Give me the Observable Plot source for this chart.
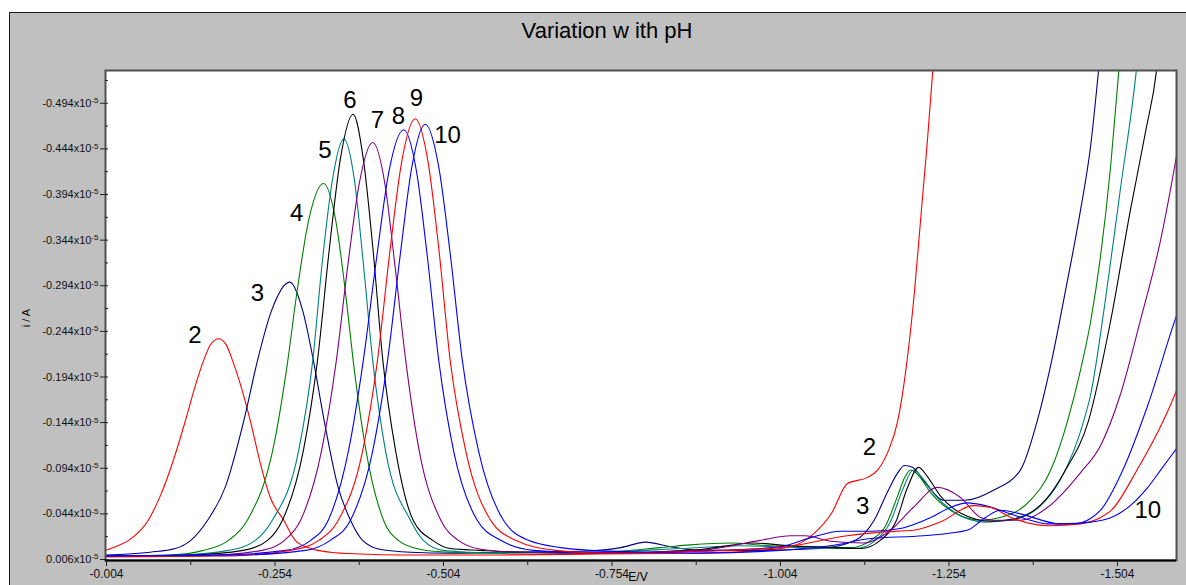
<!DOCTYPE html>
<html>
<head>
<meta charset="utf-8">
<script src="https://cdn.jsdelivr.net/npm/d3@7"></script>
<script src="https://cdn.jsdelivr.net/npm/@observablehq/plot@0.6"></script>
<style>
  html, body { margin: 0; padding: 0; width: 1186px; height: 585px; overflow: hidden; background: white; }
  #panel { position: absolute; left: 9px; top: 12px; width: 1200px; height: 600px; background: #c0c0c0; border-top: 1px solid #1a1a1a; border-left: 1px solid #1a1a1a; }
  #chart { position: absolute; left: 0; top: 0; }
  .txt { position: absolute; font-family: "Liberation Sans", Arial, sans-serif; color: #000; white-space: nowrap; }
  #title { left: 0; width: 1214px; top: 20px; text-align: center; font-size: 22px; line-height: 22px; }
  #ylab { left: 26px; top: 318px; font-size: 11px; line-height: 11px; transform: translate(-50%, -50%) rotate(-90deg); }
  #xlab { left: 638px; top: 571px; font-size: 12px; line-height: 12px; transform: translateX(-50%); }
</style>
</head>
<body>
<div id="panel"></div>
<div id="chart"></div>
<div class="txt" id="title">Variation w ith pH</div>
<div class="txt" id="ylab">i / A</div>
<div class="txt" id="xlab">E/V</div>
<script>
// E / V and i (in units of 1e-5 A)
const curve2 = [[-0.003,-0.004],[-0.017,-0.008],[-0.037,-0.015],[-0.066,-0.037],[-0.084,-0.064],[-0.102,-0.100],[-0.121,-0.146],[-0.136,-0.185],[-0.148,-0.212],[-0.158,-0.229],[-0.170,-0.236],[-0.181,-0.230],[-0.191,-0.212],[-0.203,-0.185],[-0.218,-0.144],[-0.232,-0.100],[-0.247,-0.062],[-0.267,-0.037],[-0.284,-0.015],[-0.307,-0.006],[-0.336,-0.002],[-0.381,0.000],[-0.440,0.001],[-0.589,0.001],[-0.737,0.000],[-0.885,-0.001],[-0.974,-0.004],[-1.019,-0.008],[-1.053,-0.022],[-1.080,-0.045],[-1.103,-0.077],[-1.133,-0.084],[-1.148,-0.092],[-1.164,-0.113],[-1.178,-0.146],[-1.191,-0.207],[-1.203,-0.289],[-1.213,-0.376],[-1.222,-0.453],[-1.230,-0.530],[-1.235,-0.585]];

const curve3 = [[-0.003,0.001],[-0.069,-0.002],[-0.106,-0.006],[-0.129,-0.015],[-0.154,-0.037],[-0.181,-0.075],[-0.209,-0.150],[-0.228,-0.212],[-0.249,-0.267],[-0.276,-0.298],[-0.295,-0.267],[-0.311,-0.212],[-0.326,-0.150],[-0.347,-0.075],[-0.366,-0.037],[-0.384,-0.015],[-0.411,-0.005],[-0.455,-0.002],[-0.514,-0.001],[-0.589,-0.002],[-0.707,-0.003],[-0.767,-0.007],[-0.804,-0.013],[-0.841,-0.008],[-0.885,-0.004],[-0.974,-0.004],[-1.063,-0.006],[-1.115,-0.015],[-1.143,-0.037],[-1.164,-0.070],[-1.178,-0.089],[-1.188,-0.097],[-1.200,-0.095],[-1.219,-0.078],[-1.246,-0.059],[-1.278,-0.059],[-1.320,-0.070],[-1.360,-0.092],[-1.385,-0.146],[-1.405,-0.207],[-1.427,-0.289],[-1.449,-0.376],[-1.464,-0.446],[-1.476,-0.530],[-1.482,-0.574]];

const curve4 = [[-0.003,0.002],[-0.099,0.001],[-0.148,-0.004],[-0.185,-0.015],[-0.213,-0.037],[-0.253,-0.122],[-0.273,-0.212],[-0.286,-0.284],[-0.304,-0.366],[-0.326,-0.406],[-0.344,-0.366],[-0.359,-0.284],[-0.370,-0.212],[-0.387,-0.122],[-0.415,-0.037],[-0.437,-0.015],[-0.470,-0.005],[-0.514,-0.002],[-0.589,-0.001],[-0.737,-0.002],[-0.826,-0.007],[-0.870,-0.010],[-0.930,-0.012],[-0.989,-0.009],[-1.063,-0.008],[-1.108,-0.007],[-1.138,-0.015],[-1.160,-0.031],[-1.178,-0.064],[-1.189,-0.085],[-1.197,-0.092],[-1.209,-0.086],[-1.227,-0.067],[-1.256,-0.048],[-1.301,-0.037],[-1.330,-0.040],[-1.375,-0.059],[-1.405,-0.092],[-1.430,-0.146],[-1.449,-0.201],[-1.464,-0.254],[-1.479,-0.327],[-1.494,-0.426],[-1.506,-0.530],[-1.512,-0.585]];

const curve5 = [[-0.003,0.002],[-0.114,0.001],[-0.185,-0.004],[-0.225,-0.015],[-0.250,-0.037],[-0.289,-0.113],[-0.310,-0.212],[-0.324,-0.319],[-0.339,-0.409],[-0.356,-0.455],[-0.372,-0.409],[-0.385,-0.319],[-0.399,-0.212],[-0.418,-0.113],[-0.455,-0.037],[-0.474,-0.015],[-0.504,-0.004],[-0.544,-0.002],[-0.589,-0.001],[-0.737,-0.002],[-0.856,-0.006],[-0.945,-0.009],[-1.034,-0.007],[-1.115,-0.006],[-1.145,-0.015],[-1.167,-0.035],[-1.185,-0.070],[-1.201,-0.092],[-1.215,-0.083],[-1.234,-0.064],[-1.264,-0.045],[-1.308,-0.035],[-1.345,-0.037],[-1.390,-0.053],[-1.419,-0.081],[-1.454,-0.146],[-1.464,-0.174],[-1.486,-0.278],[-1.508,-0.398],[-1.532,-0.530],[-1.538,-0.574]];

const curve6 = [[-0.003,0.002],[-0.129,0.001],[-0.207,-0.004],[-0.243,-0.015],[-0.265,-0.037],[-0.296,-0.113],[-0.317,-0.212],[-0.335,-0.337],[-0.351,-0.433],[-0.370,-0.482],[-0.385,-0.433],[-0.399,-0.337],[-0.414,-0.212],[-0.433,-0.113],[-0.459,-0.037],[-0.488,-0.015],[-0.514,-0.006],[-0.559,-0.004],[-0.618,-0.002],[-0.737,-0.001],[-0.885,-0.005],[-0.964,-0.012],[-1.019,-0.009],[-1.078,-0.007],[-1.123,-0.006],[-1.152,-0.015],[-1.175,-0.035],[-1.192,-0.072],[-1.209,-0.095],[-1.221,-0.086],[-1.241,-0.064],[-1.271,-0.045],[-1.316,-0.036],[-1.353,-0.039],[-1.397,-0.059],[-1.427,-0.092],[-1.461,-0.146],[-1.494,-0.256],[-1.523,-0.376],[-1.546,-0.464],[-1.562,-0.530],[-1.568,-0.574]];

const curve7 = [[-0.003,0.003],[-0.143,0.002],[-0.235,-0.004],[-0.268,-0.015],[-0.292,-0.037],[-0.323,-0.113],[-0.345,-0.212],[-0.362,-0.316],[-0.379,-0.406],[-0.399,-0.451],[-0.417,-0.406],[-0.432,-0.316],[-0.448,-0.212],[-0.468,-0.113],[-0.500,-0.037],[-0.526,-0.015],[-0.562,-0.005],[-0.618,-0.002],[-0.737,-0.001],[-0.885,-0.004],[-0.974,-0.015],[-1.019,-0.020],[-1.041,-0.020],[-1.078,-0.014],[-1.127,-0.012],[-1.167,-0.026],[-1.201,-0.051],[-1.237,-0.073],[-1.271,-0.062],[-1.301,-0.040],[-1.320,-0.037],[-1.360,-0.037],[-1.400,-0.051],[-1.449,-0.089],[-1.479,-0.119],[-1.508,-0.174],[-1.538,-0.256],[-1.568,-0.344],[-1.593,-0.442],[-1.597,-0.459]];

const curve8 = [[-0.003,0.002],[-0.173,0.001],[-0.270,-0.004],[-0.307,-0.015],[-0.333,-0.037],[-0.363,-0.113],[-0.385,-0.212],[-0.405,-0.326],[-0.423,-0.419],[-0.445,-0.465],[-0.464,-0.419],[-0.480,-0.326],[-0.497,-0.212],[-0.519,-0.113],[-0.554,-0.037],[-0.589,-0.015],[-0.638,-0.004],[-0.692,-0.002],[-0.811,-0.002],[-0.915,-0.004],[-1.004,-0.008],[-1.049,-0.018],[-1.093,-0.025],[-1.138,-0.025],[-1.182,-0.028],[-1.227,-0.040],[-1.256,-0.051],[-1.281,-0.056],[-1.308,-0.053],[-1.341,-0.045],[-1.375,-0.037],[-1.400,-0.033],[-1.439,-0.033],[-1.464,-0.039],[-1.479,-0.048],[-1.512,-0.092],[-1.549,-0.163],[-1.593,-0.264],[-1.597,-0.272]];

const curve9 = [[-0.003,0.003],[-0.188,0.002],[-0.277,-0.004],[-0.319,-0.015],[-0.348,-0.037],[-0.384,-0.113],[-0.406,-0.212],[-0.425,-0.335],[-0.442,-0.430],[-0.462,-0.477],[-0.481,-0.430],[-0.497,-0.335],[-0.514,-0.212],[-0.537,-0.113],[-0.574,-0.037],[-0.611,-0.015],[-0.670,-0.004],[-0.737,-0.001],[-0.885,-0.003],[-1.004,-0.007],[-1.103,-0.020],[-1.152,-0.024],[-1.201,-0.026],[-1.241,-0.035],[-1.290,-0.053],[-1.316,-0.051],[-1.346,-0.040],[-1.404,-0.031],[-1.449,-0.033],[-1.479,-0.040],[-1.495,-0.048],[-1.533,-0.092],[-1.572,-0.146],[-1.593,-0.182],[-1.597,-0.190]];

const curve10 = [[-0.003,0.002],[-0.203,0.001],[-0.299,-0.004],[-0.336,-0.015],[-0.366,-0.037],[-0.399,-0.113],[-0.421,-0.212],[-0.440,-0.329],[-0.457,-0.424],[-0.477,-0.471],[-0.497,-0.424],[-0.514,-0.329],[-0.532,-0.212],[-0.556,-0.113],[-0.593,-0.037],[-0.630,-0.015],[-0.678,-0.007],[-0.722,-0.004],[-0.811,-0.002],[-0.885,-0.001],[-1.004,-0.004],[-1.078,-0.009],[-1.138,-0.017],[-1.216,-0.020],[-1.281,-0.026],[-1.308,-0.040],[-1.330,-0.048],[-1.360,-0.044],[-1.419,-0.033],[-1.464,-0.035],[-1.495,-0.040],[-1.523,-0.053],[-1.549,-0.073],[-1.568,-0.092],[-1.593,-0.117],[-1.597,-0.121]];

const seriesNames = ["2", "3", "4", "5", "6", "7", "8", "9", "10"];
const seriesColors = ["#ff0000", "#000080", "#008000", "#008080", "#000000", "#800080", "#0000ff", "#ff0000", "#0000ff"];
const seriesData = [curve2, curve3, curve4, curve5, curve6, curve7, curve8, curve9, curve10];

const labelText = ["2", "3", "4", "5", "6", "7", "8", "9", "10", "2", "3", "10"];
const labelE = [-0.135, -0.228, -0.286, -0.328, -0.365, -0.406, -0.437, -0.464, -0.510, -1.136, -1.126, -1.549];
const labelI = [-0.240, -0.286, -0.373, -0.442, -0.497, -0.475, -0.480, -0.499, -0.459, -0.117, -0.052, -0.048];

const xMajor = [-0.004, -0.254, -0.504, -0.754, -1.004, -1.254, -1.504];
const xMinor = [-0.129, -0.379, -0.629, -0.879, -1.129, -1.379];
const yMajor = [0.006, -0.044, -0.094, -0.144, -0.194, -0.244, -0.294, -0.344, -0.394, -0.444, -0.494];
const yMinor = [-0.019, -0.069, -0.119, -0.169, -0.219, -0.269, -0.319, -0.369, -0.419, -0.469, -0.519];

const xDomain = [-0.0025, -1.5916];
const yDomain = [0.0071, -0.5299];

const lineMarks = seriesData.map((data, k) =>
  Plot.line(data, {x: d => d[0], y: d => d[1], stroke: seriesColors[k], strokeWidth: 1.1, curve: "monotone-x", clip: true})
);

const labels = labelText.map((t, k) => ({t, e: labelE[k], i: labelI[k]}));

const chart = Plot.plot({
  width: 1186,
  height: 585,
  marginLeft: 105,
  marginRight: 10,
  marginTop: 70,
  marginBottom: 25,
  x: {domain: xDomain},
  y: {domain: yDomain},
  style: {background: "none", fontFamily: "'Liberation Sans', Arial, sans-serif", fontSize: "12px", color: "#111", overflow: "visible"},
  marks: [
    Plot.frame({fill: "white", stroke: null}),
    ...lineMarks,
    Plot.text(labels, {x: "e", y: "i", text: "t", fontSize: 24, fill: "black", fontFamily: "'Liberation Sans', Arial, sans-serif"}),
    Plot.frame({stroke: "#505050", strokeWidth: 2}),
    Plot.ruleY([yDomain[0]], {stroke: "black", strokeWidth: 2}),
    Plot.ruleX(xMajor, {y1: yDomain[0], y2: 0.0137, stroke: "#222"}),
    Plot.ruleX(xMinor, {y1: yDomain[0], y2: 0.0126, stroke: "#222"}),
    Plot.ruleY(yMajor, {x1: 0.0049, x2: -0.007, stroke: "#222"}),
    Plot.ruleY(yMinor, {x1: xDomain[0], x2: -0.007, stroke: "#222"}),
    Plot.axisX(xMajor, {tickSize: 0, tickPadding: 9, tickFormat: d => d.toFixed(3), fontSize: 12, label: null}),
    Plot.axisY(yMajor, {tickSize: 0, tickPadding: 7, tickFormat: d => d.toFixed(3) + "x10", fontSize: 11, label: null})
  ]
});

document.getElementById("chart").appendChild(chart);

// superscript exponent on y tick labels
chart.querySelectorAll('g[aria-label="y-axis tick label"] text').forEach(t => {
  const ts = document.createElementNS("http://www.w3.org/2000/svg", "tspan");
  ts.setAttribute("dy", "-0.45em");
  ts.setAttribute("font-size", "8");
  ts.textContent = "-5";
  t.appendChild(ts);
});
</script>
</body>
</html>
